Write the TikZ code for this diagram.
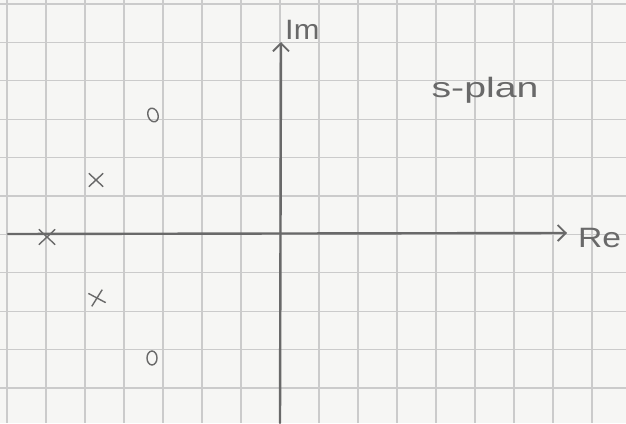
\documentclass[tikz,border=0pt]{standalone}
\usepackage{fontspec}
\setmainfont{Liberation Sans}
\usepackage{graphicx}
\usetikzlibrary{arrows.meta,shapes.misc,shapes.geometric}
\definecolor{paper}{RGB}{246,246,244}
\definecolor{gridc}{RGB}{203,203,203}
\definecolor{pencil}{RGB}{105,105,105}
\tikzset{
  gridline/.style={draw=gridc, line width=1.3pt},
  axisline/.style={draw=pencil, line width=2.4pt, line cap=round,
    -{Straight Barb[length=8pt,width=16pt,line width=1.8pt]}},
  pole/.style={cross out, draw=pencil, line width=1.4pt, minimum width=13pt, minimum height=12pt, inner sep=0pt},
  zero/.style={ellipse, draw=pencil, line width=1.4pt, minimum width=10pt, minimum height=14pt, inner sep=0pt},
  lbl/.style={text=pencil, inner sep=0pt, font=\fontsize{28}{30}\selectfont}
}
\begin{document}
\begin{tikzpicture}[x=1pt,y=-1pt]
\useasboundingbox (0,0) rectangle (626,423);
\fill[paper] (0,0) rectangle (626,423);
% grid
\foreach \i in {0,...,15} { \draw[gridline] ({7+39*\i},0) -- ({7+39*\i},423); }
\foreach \j in {0,...,11} { \draw[gridline] (0,{4+38.4*\j}) -- (626,{4+38.4*\j}); }
% axes
\coordinate (reL) at (8,234);
\coordinate (reR) at (567,233);
\coordinate (imB) at (280,423);
\coordinate (imT) at (281,42);
\draw[axisline] (reL) -- (reR);
\draw[axisline] (imB) -- (imT);
% labels
\node[lbl, anchor=west] (im) at (285,30) {\scalebox{1.1}[1]{Im}};
\node[lbl] (splan) at (485,90) {\scalebox{1.4}[1]{s-plan}};
\node[lbl, anchor=west] (re) at (578,238) {\scalebox{1.2}[1]{Re}};
% poles and zeros
\node[pole] (p1) at (96,180) {};
\node[pole, minimum width=15pt, minimum height=14pt] (p0) at (47,237) {};
\node[pole, rotate=15] (p2) at (97,298) {};
\node[zero, rotate=20] (z1) at (153,115) {};
\node[zero] (z2) at (152,358) {};
\end{tikzpicture}
\end{document}
